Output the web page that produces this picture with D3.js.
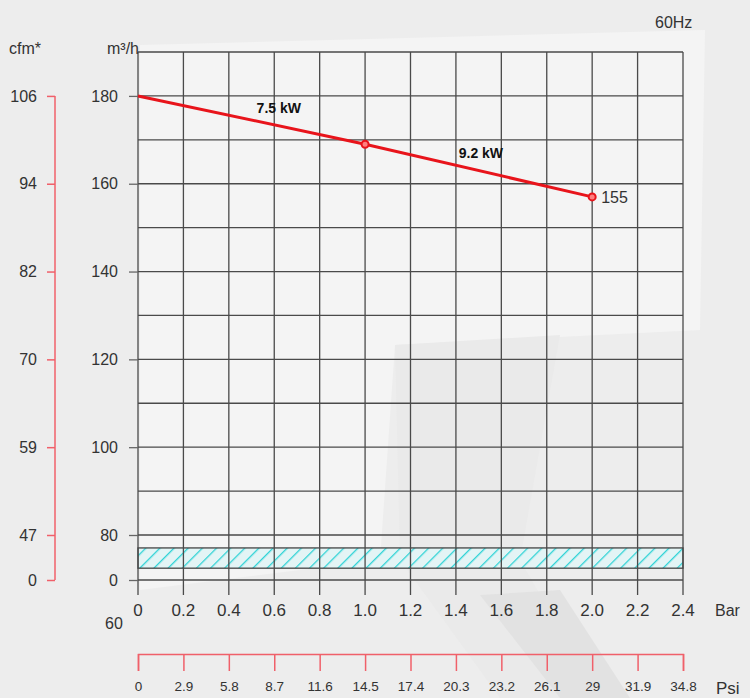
<!DOCTYPE html>
<html>
<head>
<meta charset="utf-8">
<script src="https://cdn.jsdelivr.net/npm/d3@7"></script>
<style>
  body { margin: 0; background: #ededed; }
  svg { display: block; font-family: "Liberation Sans", Arial, sans-serif; }
</style>
</head>
<body>
<div id="chart"></div>
<script>
// data
const barTicks = [0, 0.2, 0.4, 0.6, 0.8, 1.0, 1.2, 1.4, 1.6, 1.8, 2.0, 2.2, 2.4]
const psiTicks = ["0", "2.9", "5.8", "8.7", "11.6", "14.5", "17.4", "20.3", "23.2", "26.1", "29", "31.9", "34.8"]
const m3hLabels = [180, 160, 140, 120, 100, 80, 0]
const cfmLabels = [106, 94, 82, 70, 59, 47, 0]
const gridRows = [190, 180, 170, 160, 150, 140, 130, 120, 110, 100, 90, 80, 0]
const bandRange = [21, 57]
const curveBar = [0, 1.0, 2.0]
const curveFlow = [180, 169, 157]
const powerLabels = [
  {x: 0.62, y: 176.1, text: "7.5 kW"},
  {x: 1.51, y: 165.9, text: "9.2 kW"}
]

const w = 750, h = 698
const margin = {top: 52, right: 67, bottom: 118, left: 138}
const font = '"Liberation Sans", Arial, sans-serif'

const x = d3.scaleLinear()
    .domain([0, 2.4])
    .range([margin.left, w - margin.right])

// broken axis: 0..80 squeezed, 80..190 regular
const y = d3.scaleLinear()
    .domain([0, 80, 190])
    .range([580, 535, margin.top])

const psi = d3.scaleLinear()
    .domain([0, 34.8])
    .range([margin.left, w - margin.right])

const svg = d3.select("#chart")
    .append("svg")
    .attr("width", w)
    .attr("height", h)
    .attr("viewBox", [0, 0, w, h])

// faint watermark shapes in the background
const bg = svg.append("g")
bg.append("rect").attr("width", w).attr("height", h).attr("fill", "#ededed")
bg.append("path")
    .attr("d", "M140,45 L705,30 L700,330 L395,345 L380,560 L140,590 Z")
    .attr("fill", "#f4f4f4")
bg.append("path")
    .attr("d", "M395,345 L560,335 L520,560 L600,698 L500,698 L400,560 Z")
    .attr("fill", "#eaeaea")
bg.append("path")
    .attr("d", "M480,595 L560,590 L630,698 L560,698 Z")
    .attr("fill", "#e2e2e2")

// hatch pattern
const defs = svg.append("defs")
const pat = defs.append("pattern")
    .attr("id", "hatch")
    .attr("patternUnits", "userSpaceOnUse")
    .attr("width", 10)
    .attr("height", 10)
    .attr("patternTransform", "rotate(45)")
pat.append("rect").attr("width", 10).attr("height", 10).attr("fill", "#e3f4f5")
pat.append("line")
    .attr("x1", 0).attr("y1", 0).attr("x2", 0).attr("y2", 10)
    .attr("stroke", "#2fd3d6")
    .attr("stroke-width", 2.6)

svg.append("rect")
    .attr("x", x(0))
    .attr("y", y(bandRange[1]))
    .attr("width", x(2.4) - x(0))
    .attr("height", y(bandRange[0]) - y(bandRange[1]))
    .attr("fill", "url(#hatch)")
    .attr("stroke", "#444")
    .attr("stroke-width", 1.3)

// grid
const grid = svg.append("g")
    .attr("stroke", "#4a4a4a")
    .attr("stroke-width", 1.3)
grid.append("g")
    .selectAll("line")
    .data(barTicks)
    .join("line")
    .attr("x1", d => x(d))
    .attr("x2", d => x(d))
    .attr("y1", margin.top)
    .attr("y2", 595)
grid.append("g")
    .selectAll("line")
    .data(gridRows)
    .join("line")
    .attr("x1", margin.left)
    .attr("x2", x(2.4))
    .attr("y1", d => y(d))
    .attr("y2", d => y(d))

// m3/h axis
svg.append("g")
    .attr("transform", `translate(${margin.left},0)`)
    .attr("font-family", font)
    .call(d3.axisLeft(y).tickValues(m3hLabels).tickSize(9).tickPadding(11))
    .call(g => g.select(".domain").remove())
    .call(g => g.selectAll(".tick line").attr("stroke", "#666").attr("stroke-width", 1.3))
    .call(g => g.selectAll(".tick text")
        .attr("fill", "#333")
        .attr("font-size", 16))

// cfm axis
const cfm = d3.scaleLinear()
    .domain(cfmLabels.slice().reverse())
    .range(m3hLabels.slice().reverse().map(d => y(d)))
svg.append("g")
    .attr("transform", "translate(55,0)")
    .call(d3.axisLeft(cfm).tickValues(cfmLabels).tickSize(8).tickSizeOuter(0).tickPadding(10))
    .attr("font-family", font)
    .call(g => g.select(".domain").attr("stroke", "#f0606a").attr("stroke-width", 1.5)
        .attr("d", `M0,${y(180)}V${y(0)}`))
    .call(g => g.selectAll(".tick line").attr("stroke", "#f0606a").attr("stroke-width", 1.5))
    .call(g => g.selectAll(".tick text").attr("fill", "#333").attr("font-size", 16))

// bar labels
svg.append("g")
    .selectAll("text")
    .data(barTicks)
    .join("text")
    .attr("x", d => x(d))
    .attr("y", 616)
    .attr("text-anchor", "middle")
    .attr("fill", "#333")
    .attr("font-size", 17)
    .text(d => d === 0 ? "0" : d.toFixed(1))
svg.append("text")
    .attr("x", 715).attr("y", 616)
    .attr("fill", "#333").attr("font-size", 16)
    .text("Bar")

// psi axis
svg.append("g")
    .attr("transform", "translate(0,654)")
    .call(d3.axisBottom(psi)
        .tickValues(psiTicks.map(Number))
        .tickFormat((d, i) => psiTicks[i])
        .tickSize(17)
        .tickPadding(10))
    .attr("font-family", font)
    .call(g => g.select(".domain").attr("stroke", "#f0606a").attr("stroke-width", 1.5))
    .call(g => g.selectAll(".tick line").attr("stroke", "#f0606a").attr("stroke-width", 1.5))
    .call(g => g.selectAll(".tick text").attr("fill", "#333").attr("font-size", 13.5))
svg.append("text")
    .attr("x", 716).attr("y", 694)
    .attr("fill", "#333").attr("font-size", 17)
    .text("Psi")

// headers
svg.append("text").attr("x", 9).attr("y", 54).attr("fill", "#333").attr("font-size", 16).text("cfm*")
svg.append("text").attr("x", 107).attr("y", 54).attr("fill", "#333").attr("font-size", 16).text("m³/h")
svg.append("text").attr("x", 655).attr("y", 28).attr("fill", "#333").attr("font-size", 16).text("60Hz")
svg.append("text").attr("x", 105).attr("y", 629).attr("fill", "#333").attr("font-size", 16).text("60")

// curve
const pts = curveBar.map((b, i) => [b, curveFlow[i]])
svg.append("path")
    .datum(pts)
    .attr("fill", "none")
    .attr("stroke", "#e8141b")
    .attr("stroke-width", 3)
    .attr("d", d3.line().x(d => x(d[0])).y(d => y(d[1])))
svg.append("g")
    .selectAll("circle")
    .data(pts.slice(1))
    .join("circle")
    .attr("cx", d => x(d[0]))
    .attr("cy", d => y(d[1]))
    .attr("r", 3.5)
    .attr("fill", "#ff8080")
    .attr("stroke", "#e8141b")
    .attr("stroke-width", 2)

svg.append("g")
    .selectAll("text")
    .data(powerLabels)
    .join("text")
    .attr("x", d => x(d.x))
    .attr("y", d => y(d.y))
    .attr("text-anchor", "middle")
    .attr("font-size", 14)
    .attr("font-weight", "bold")
    .attr("fill", "#111")
    .text(d => d.text)

svg.append("text")
    .attr("x", x(2.0) + 9)
    .attr("y", y(157) + 6)
    .attr("font-size", 16)
    .attr("fill", "#333")
    .text("155")
</script>
</body>
</html>
